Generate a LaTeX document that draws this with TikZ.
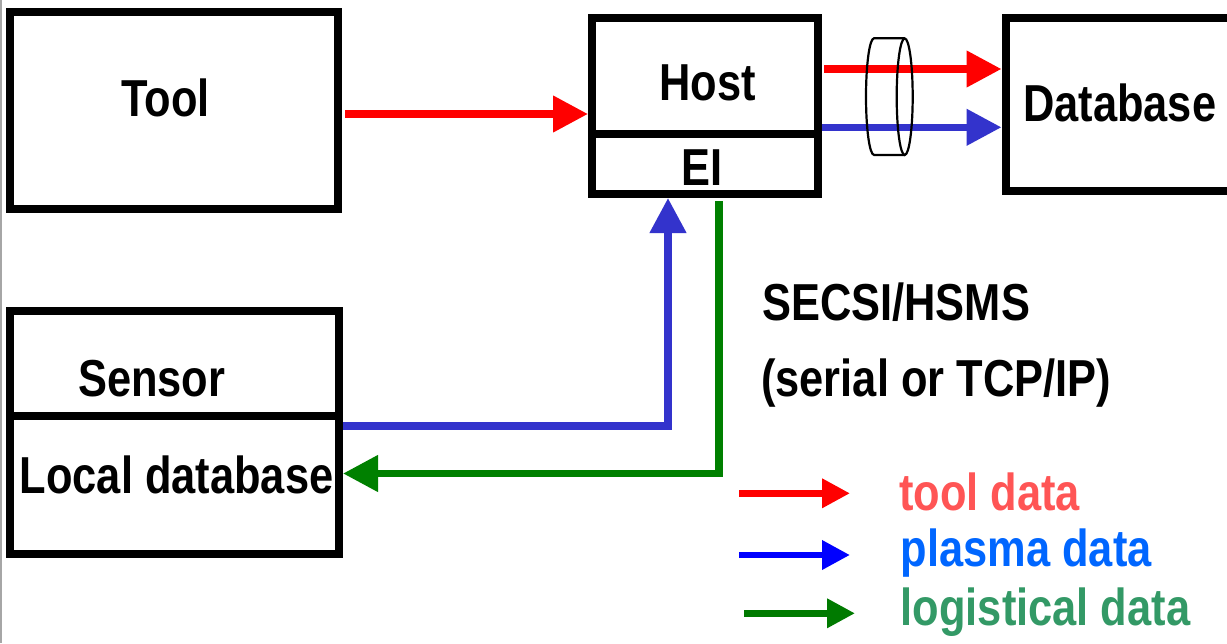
\documentclass[tikz,border=0pt]{standalone}
\usepackage{fontspec}
\setmainfont[FakeStretch=0.835]{Liberation Sans}
\usetikzlibrary{arrows.meta}
\definecolor{ared}{HTML}{FF0000}
\definecolor{ablue}{HTML}{3333CC}
\definecolor{agreen}{HTML}{008000}
\definecolor{lblue}{HTML}{0000FF}
\definecolor{lgreen}{HTML}{007A00}
\definecolor{tred}{HTML}{FF5555}
\definecolor{tblue}{HTML}{0066FF}
\definecolor{tgreen}{HTML}{339966}
\begin{document}
\begin{tikzpicture}[x=1pt,y=-1pt,
  box/.style={draw=black, line width=8pt, inner sep=0pt, outer sep=4pt},
  lbl/.style={anchor=base west, inner sep=0pt, font=\fontsize{52}{60}\selectfont\bfseries},
  bigtip/.style={-{Triangle[length=35pt,width=35pt]}},
  smalltip/.style={-{Triangle[length=28pt,width=28pt]}},
  redline/.style={draw=ared, line width=7.5pt, bigtip},
  blueline/.style={draw=ablue, line width=7.5pt, bigtip},
  greenline/.style={draw=agreen, line width=7.5pt, bigtip},
  legline/.style={line width=6.7pt, smalltip},
  cyl/.style={draw=black, line width=2.2pt}
]
\useasboundingbox (0,0) rectangle (1227,643);
\fill[white] (0,0) rectangle (1227,643);
\clip (0,0) rectangle (1227,643);
\draw[black!35, line width=2pt] (1,0) -- (1,643);

% boxes
\node[box, minimum width=328pt, minimum height=197pt] (tool) at (174,110.5) {};
\node[box, minimum width=226pt, minimum height=115.7pt] (host) at (705,75.85) {};
\node[box, minimum width=226pt, minimum height=60.3pt] (ei) at (705,163.85) {};
\node[box, minimum width=260pt, minimum height=173pt] (db) at (1135.5,104) {};
\node[box, minimum width=329pt, minimum height=105pt] (sensor) at (174.5,363.5) {};
\node[box, minimum width=329pt, minimum height=138pt] (localdb) at (174.5,485) {};

% texts
\node[lbl] (toolt) at (121,116.7) {Tool};
\node[lbl] (hostt) at (659,100) {Host};
\node[lbl] (eit) at (681,185) {EI};
\node[lbl] (dbt) at (1023,121.7) {Database};
\node[lbl] (sensort) at (78,396.7) {Sensor};
\node[lbl] (localdbt) at (19.5,493.3) {Local database};
\node[lbl] (secs1) at (762,320) {SECSI/HSMS};
\node[lbl] (secs2) at (761,396) {(serial or TCP/IP)};

% connectors
\coordinate (ry) at (0,114);
\draw[redline, shorten <=3pt] (tool.east |- ry) -- (host.west |- ry);
\coordinate (hr) at (0,69);
\draw[redline, shorten <=2pt] (host.east |- hr) -- (db.west |- hr);
\coordinate (hb) at (0,127.3);
\draw[blueline] (host.east |- hb) -- (db.west |- hb);
\coordinate (bx) at (668,426);
\draw[blueline] (localdb.east |- bx) -- (bx) -- (bx |- ei.south);
\coordinate (gx) at (719,473.5);
\draw[greenline, shorten <=3pt] (ei.south -| gx) -- (gx) -- (localdb.east |- gx);

% cylinder
\draw[cyl] (904.7,38.3) -- (874,38.3) arc[start angle=270, end angle=90, x radius=8, y radius=58.3] -- (904.7,155);
\draw[cyl] (904.7,96.7) ellipse [x radius=8, y radius=58.3];

% legend
\coordinate (l1a) at (739,493.3); \coordinate (l1b) at (850,493.3);
\coordinate (l2a) at (739,555);   \coordinate (l2b) at (850,555);
\coordinate (l3a) at (744,613.3); \coordinate (l3b) at (855,613.3);
\draw[legline, draw=ared] (l1a) -- (l1b);
\draw[legline, draw=lblue] (l2a) -- (l2b);
\draw[legline, draw=lgreen] (l3a) -- (l3b);
\node[lbl, text=tred] (leg1) at (899,510) {tool data};
\node[lbl, text=tblue] (leg2) at (900.5,566) {plasma data};
\node[lbl, text=tgreen] (leg3) at (900.5,625) {logistical data};
\end{tikzpicture}
\end{document}
